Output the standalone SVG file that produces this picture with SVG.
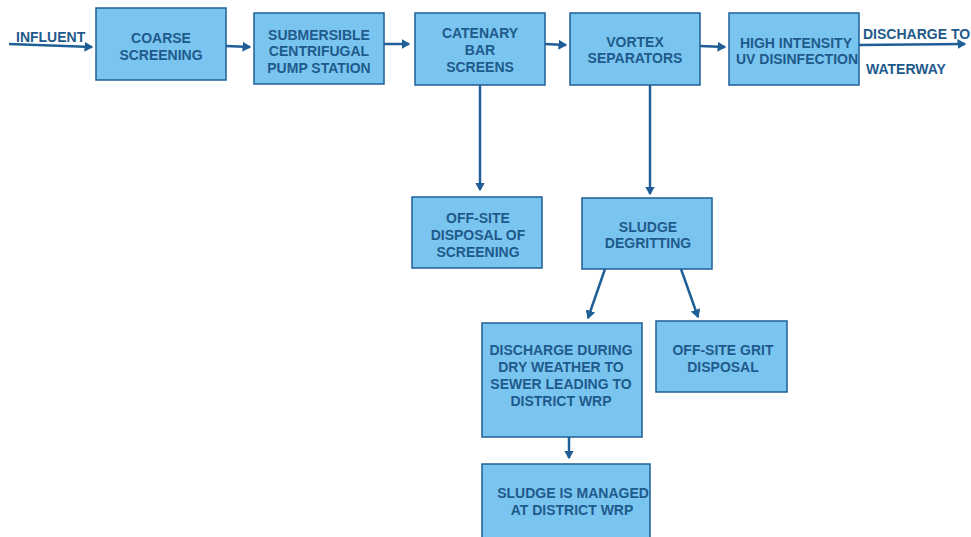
<svg xmlns="http://www.w3.org/2000/svg" width="971" height="537" viewBox="0 0 971 537">
<style>
.box{fill:#7ac5ef;stroke:#1f5f96;stroke-width:1.5}
text{font-family:"Liberation Sans",Arial,sans-serif;font-weight:bold;font-size:14px;fill:#1f5a8c}
.c{text-anchor:middle}
.ln{stroke:#1f5f96;stroke-width:2.5;fill:none;marker-end:url(#ah)}
</style>
<defs>
<marker id="ah" markerWidth="4" markerHeight="4" refX="3" refY="2" orient="auto" markerUnits="strokeWidth">
<path d="M0,0 L3.5,2 L0,4 Z" fill="#1f5f96"/>
</marker>
</defs>
<rect width="971" height="537" fill="#fff"/>
<g id="connectors">
<path class="ln" d="M9,44 L92,47"/>
<path class="ln" d="M226,46 L250,47"/>
<path class="ln" d="M384,44 L409,44"/>
<path class="ln" d="M545,44 L566,45"/>
<path class="ln" d="M700,46 L725,47"/>
<path class="ln" d="M859,45 L965,44"/>
<path class="ln" d="M480,85 L480,190"/>
<path class="ln" d="M650,85 L650,194"/>
<path class="ln" d="M605,269 L588,318"/>
<path class="ln" d="M681,269 L698,317"/>
<path class="ln" d="M569,437 L569,458"/>
</g>
<g id="influent"><text x="16" y="42">INFLUENT</text></g>
<g id="coarse"><rect class="box" x="96" y="8" width="130" height="72"/>
<text class="c" x="161" y="43">COARSE</text><text class="c" x="161" y="60">SCREENING</text></g>
<g id="pump"><rect class="box" x="254" y="13" width="130" height="71"/>
<text class="c" x="319" y="40">SUBMERSIBLE</text><text class="c" x="319" y="56">CENTRIFUGAL</text><text class="c" x="319" y="73">PUMP STATION</text></g>
<g id="catenary"><rect class="box" x="415" y="13" width="130" height="72"/>
<text class="c" x="480" y="38">CATENARY</text><text class="c" x="480" y="55">BAR</text><text class="c" x="480" y="72">SCREENS</text></g>
<g id="vortex"><rect class="box" x="570" y="13" width="130" height="72"/>
<text class="c" x="635" y="47">VORTEX</text><text class="c" x="635" y="63">SEPARATORS</text></g>
<g id="uv"><rect class="box" x="729" y="13" width="130" height="72"/>
<text class="c" x="796" y="48">HIGH INTENSITY</text><text class="c" x="797" y="64">UV DISINFECTION</text></g>
<g id="discharge"><text x="863" y="39">DISCHARGE TO</text><text x="866" y="74">WATERWAY</text></g>
<g id="offsite-screening"><rect class="box" x="412" y="197" width="130" height="71"/>
<text class="c" x="478" y="223">OFF-SITE</text><text class="c" x="478" y="240">DISPOSAL OF</text><text class="c" x="478" y="257">SCREENING</text></g>
<g id="degritting"><rect class="box" x="582" y="198" width="130" height="71"/>
<text class="c" x="648" y="232">SLUDGE</text><text class="c" x="648" y="248">DEGRITTING</text></g>
<g id="dry-weather"><rect class="box" x="482" y="323" width="160" height="114"/>
<text class="c" x="561" y="355">DISCHARGE DURING</text><text class="c" x="561" y="372">DRY WEATHER TO</text><text class="c" x="561" y="389">SEWER LEADING TO</text><text class="c" x="561" y="406">DISTRICT WRP</text></g>
<g id="grit"><rect class="box" x="656" y="321" width="131" height="71"/>
<text class="c" x="723" y="355">OFF-SITE GRIT</text><text class="c" x="723" y="372">DISPOSAL</text></g>
<g id="managed"><rect class="box" x="482" y="464" width="168" height="78"/>
<text class="c" x="573" y="498">SLUDGE IS MANAGED</text><text class="c" x="572" y="515">AT DISTRICT WRP</text></g>
</svg>
